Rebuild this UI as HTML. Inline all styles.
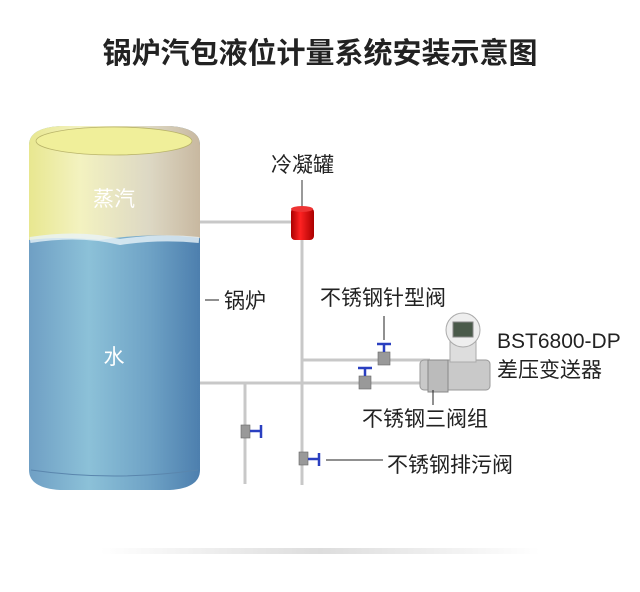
<!DOCTYPE html><html><head><meta charset="utf-8"><style>body{margin:0;background:#fff}svg{display:block}text{font-family:"Liberation Sans","Noto Sans CJK SC",sans-serif}</style></head><body>
<svg width="640" height="592" viewBox="0 0 640 592">
<defs>
<linearGradient id="w" x1="0" x2="1"><stop offset="0" stop-color="#6f9fc4"/><stop offset=".35" stop-color="#8cc1d8"/><stop offset=".7" stop-color="#6fa3c6"/><stop offset="1" stop-color="#4d7fae"/></linearGradient>
<linearGradient id="s" x1="0" x2="1"><stop offset="0" stop-color="#e8e790"/><stop offset=".3" stop-color="#f3f2c0"/><stop offset=".7" stop-color="#ddd8c4"/><stop offset="1" stop-color="#c8b8a0"/></linearGradient>
<linearGradient id="r" x1="0" x2="1"><stop offset="0" stop-color="#a00"/><stop offset=".4" stop-color="#f22"/><stop offset="1" stop-color="#a00"/></linearGradient>
<linearGradient id="sh" x1="0" x2="1"><stop offset="0" stop-color="#fff"/><stop offset=".5" stop-color="#ddd"/><stop offset="1" stop-color="#fff"/></linearGradient>
</defs>
<text x="320" y="63" font-size="29" font-weight="bold" text-anchor="middle" fill="#222">锅炉汽包液位计量系统安装示意图</text>
<path d="M29 145 Q29 128 60 126 L170 126 Q200 128 200 145 L200 470 Q200 488 170 490 L60 490 Q29 488 29 470 Z" fill="url(#w)"/>
<path d="M29 145 Q29 128 60 126 L170 126 Q200 128 200 145 L200 238 Q150 232 100 240 Q60 236 29 240 Z" fill="url(#s)"/>
<ellipse cx="114" cy="141" rx="78" ry="14" fill="#f0ef9a" stroke="#b9b46a" stroke-width=".8"/>
<path d="M30 240 Q80 232 120 242 Q160 236 199 240" stroke="#e8f2f8" stroke-width="6" fill="none" opacity=".8"/>
<path d="M31 470 Q114 482 198 470" stroke="#5a86ad" fill="none"/>
<text x="114" y="206" font-size="21" text-anchor="middle" fill="#fff">蒸汽</text>
<text x="114" y="364" font-size="21" text-anchor="middle" fill="#fff">水</text>
<g stroke="#c8c8c8" stroke-width="3" fill="none">
<line x1="200" y1="222" x2="292" y2="222"/>
<line x1="302" y1="238" x2="302" y2="485"/>
<line x1="302" y1="360" x2="430" y2="360"/>
<line x1="200" y1="383" x2="430" y2="383"/>
<line x1="245" y1="383" x2="245" y2="484"/>
</g>
<line x1="302" y1="180" x2="302" y2="207" stroke="#333"/>
<rect x="291" y="208" width="23" height="32" rx="4" fill="url(#r)"/>
<ellipse cx="302" cy="209" rx="11" ry="3" fill="#e33"/>
<g fill="#999" stroke="#666" stroke-width=".6">
<rect x="378" y="352" width="12" height="13"/><rect x="359" y="376" width="12" height="13"/>
<rect x="241" y="425" width="9" height="13"/><rect x="299" y="452" width="9" height="13"/>
</g>
<g stroke="#2a3fc0" stroke-width="2.5">
<line x1="377" y1="344" x2="391" y2="344"/><line x1="384" y1="344" x2="384" y2="352"/>
<line x1="358" y1="368" x2="372" y2="368"/><line x1="365" y1="368" x2="365" y2="376"/>
<line x1="261" y1="425" x2="261" y2="438"/><line x1="250" y1="431" x2="261" y2="431"/>
<line x1="319" y1="453" x2="319" y2="466"/><line x1="308" y1="459" x2="319" y2="459"/>
</g>
<rect x="420" y="360" width="70" height="30" rx="4" fill="#c9c9c9" stroke="#999"/>
<rect x="428" y="360" width="20" height="32" fill="#bbb" stroke="#888"/>
<rect x="450" y="340" width="26" height="22" fill="#ddd" stroke="#aaa"/>
<circle cx="463" cy="330" r="17" fill="#eee" stroke="#aaa"/>
<rect x="453" y="322" width="20" height="15" fill="#4a5a4a" stroke="#888"/>
<g stroke="#222" stroke-width="1">
<line x1="205" y1="300" x2="219" y2="300"/>
<line x1="384" y1="316" x2="384" y2="340"/>
<line x1="433" y1="390" x2="433" y2="405"/>
<line x1="326" y1="460" x2="383" y2="460"/>
</g>
<g font-size="21" fill="#222">
<text x="271" y="172">冷凝罐</text>
<text x="224" y="308">锅炉</text>
<text x="320" y="305">不锈钢针型阀</text>
<text x="497" y="348">BST6800-DP</text>
<text x="497" y="377">差压变送器</text>
<text x="362" y="426">不锈钢三阀组</text>
<text x="387" y="472">不锈钢排污阀</text>
</g>
<rect x="100" y="548" width="440" height="6" fill="url(#sh)"/>
</svg></body></html>
